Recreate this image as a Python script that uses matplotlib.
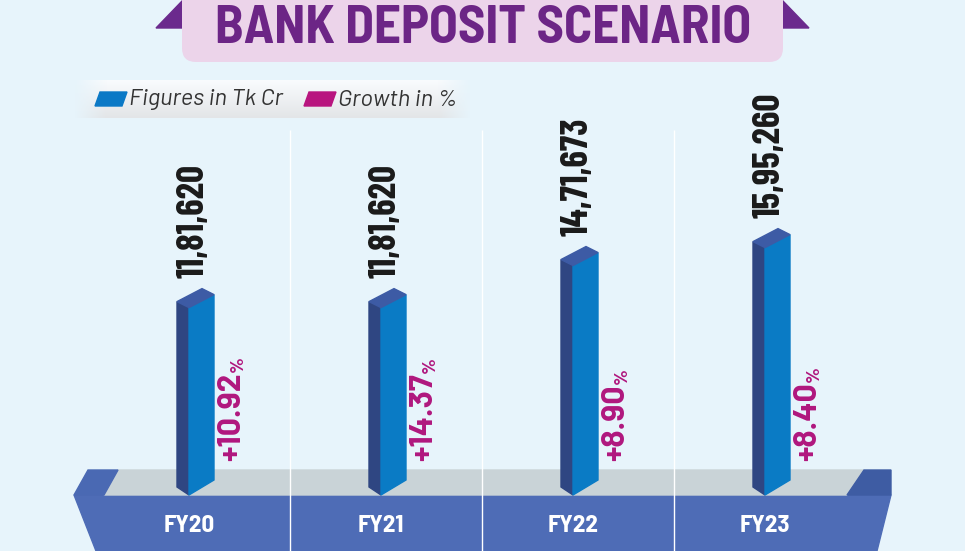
import matplotlib
matplotlib.use("Agg")
import matplotlib.pyplot as plt
from matplotlib.patches import Polygon, FancyBboxPatch
import numpy as np

# data
years = ["FY20", "FY21", "FY22", "FY23"]
deposits = [1181620, 1181620, 1471673, 1595260]
deposit_labels = ["11,81,620", "11,81,620", "14,71,673", "15,95,260"]
growth = [10.92, 14.37, 8.90, 8.40]

W, H = 965, 551
BG = "#e7f4fb"
COND = ["Barlow Condensed", "DejaVu Sans"]
SEMI = ["Barlow Semi Condensed", "Barlow Condensed", "DejaVu Sans"]
WIDE = ["Barlow", "DejaVu Sans"]

fig = plt.figure(figsize=(W / 100, H / 100), dpi=100)
fig.patch.set_facecolor(BG)

# decoration layer, pixel units
bg = fig.add_axes([0, 0, 1, 1])
bg.set_xlim(0, W)
bg.set_ylim(H, 0)
bg.axis("off")

# title ribbon
bg.add_patch(Polygon([(156, 28), (183, 0), (183, 28)], color="#6b2a8d"))
bg.add_patch(Polygon([(782, 0), (809, 28), (782, 28)], color="#6b2a8d"))
bg.add_patch(FancyBboxPatch((182, -30), 601, 92,
                            boxstyle="round,pad=0,rounding_size=14",
                            fc="#ecd4ea", ec="none"))
bg.text(483, 29, "BANK DEPOSIT SCENARIO", family=SEMI, weight="bold",
        fontsize=38, color="#6c2586", ha="center", va="center")

# legend band
band = np.ones((20, 100, 4))
shade = np.linspace(0.985, 0.90, 20)[:, None]
band[..., 0] = shade * 0.99
band[..., 1] = shade
band[..., 2] = shade * 1.01
fade = np.clip(np.minimum(np.linspace(0, 1, 100) / 0.08,
                          np.linspace(1, 0, 100) / 0.08), 0, 1)
band[..., 3] = fade[None, :]
bg.imshow(np.clip(band, 0, 1), extent=[73, 472, 118, 80], aspect="auto",
          interpolation="bilinear", zorder=1)
bg.add_patch(Polygon([(95, 106), (100, 92), (127, 92), (122, 106)],
                     color="#0b79c6", zorder=2))
bg.text(129, 100, "Figures in Tk Cr", family=WIDE,
        style="italic", fontsize=17, color="#333333", va="center", zorder=2)
bg.add_patch(Polygon([(304, 106), (309, 92), (336, 92), (331, 106)],
                     color="#b8157f", zorder=2))
bg.text(338, 100, "Growth in %", family=WIDE,
        style="italic", fontsize=17, color="#333333", va="center", zorder=2)

# separators
bg.vlines([290, 482, 674], 130, H, color="white", lw=1, zorder=1)

# platform
bg.add_patch(Polygon([(74, 495), (891, 495), (877, H), (96, H)],
                     color="#4e6cb6", zorder=0.5))
bg.add_patch(Polygon([(104, 495), (118, 470), (864, 470), (847, 495)],
                     color="#c9d3d7", zorder=0.5))
bg.add_patch(Polygon([(74, 495), (88, 470), (118, 470), (104, 495)],
                     color="#4a69b3", zorder=0.6))
bg.add_patch(Polygon([(847, 495), (864, 470), (891, 470), (891, 495)],
                     color="#3e5ca3", zorder=0.6))

# bar layer: x in pixels, y in Tk Cr
ZERO_PX, VPP = 479, 6894
ax = fig.add_axes([0, 0, 1, 1])
ax.set_xlim(0, W)
ax.set_ylim((ZERO_PX - H) * VPP, ZERO_PX * VPP)
ax.axis("off")
ax.patch.set_alpha(0)

xpos = [189, 381, 573, 765]
S, FW = 12, 25
base = (ZERO_PX - 495) * VPP


def dv(p):
    return p * VPP


for x, v, lab, g, yr in zip(xpos, deposits, deposit_labels, growth, years):
    ax.add_patch(Polygon([(x - S, v + dv(6)), (x, v), (x, base),
                          (x - S, base + dv(8))], color="#2f4682"))
    ax.add_patch(Polygon([(x, v), (x + FW, v + dv(13)),
                          (x + FW, base + dv(15)), (x, base)], color="#0a7bc5"))
    ax.add_patch(Polygon([(x - S, v + dv(6)), (x - S + FW, v + dv(19)),
                          (x + FW, v + dv(13)), (x, v)], color="#3d5ba5"))
    ax.annotate(lab, (x + 5, v), xytext=(0, 30), textcoords="offset pixels",
                rotation=90, ha="center", va="bottom", family=COND,
                weight="bold", fontsize=27, color="#1a1a1a")
    t = bg.text(x + 43, 461, f"+{g:.2f}", rotation=90, ha="center",
                va="bottom", family=WIDE, weight="bold", fontsize=23,
                color="#b0177e")
    bg.annotate("%", (1, 1), xycoords=t, ha="right", va="bottom",
                rotation=90, family=WIDE, weight="bold", fontsize=14,
                color="#b0177e")
    bg.text(x, 526, yr, ha="center", va="center", family=SEMI,
            weight="bold", fontsize=18, color="white", zorder=3)

fig.savefig("out.png", dpi=100, facecolor=BG)
